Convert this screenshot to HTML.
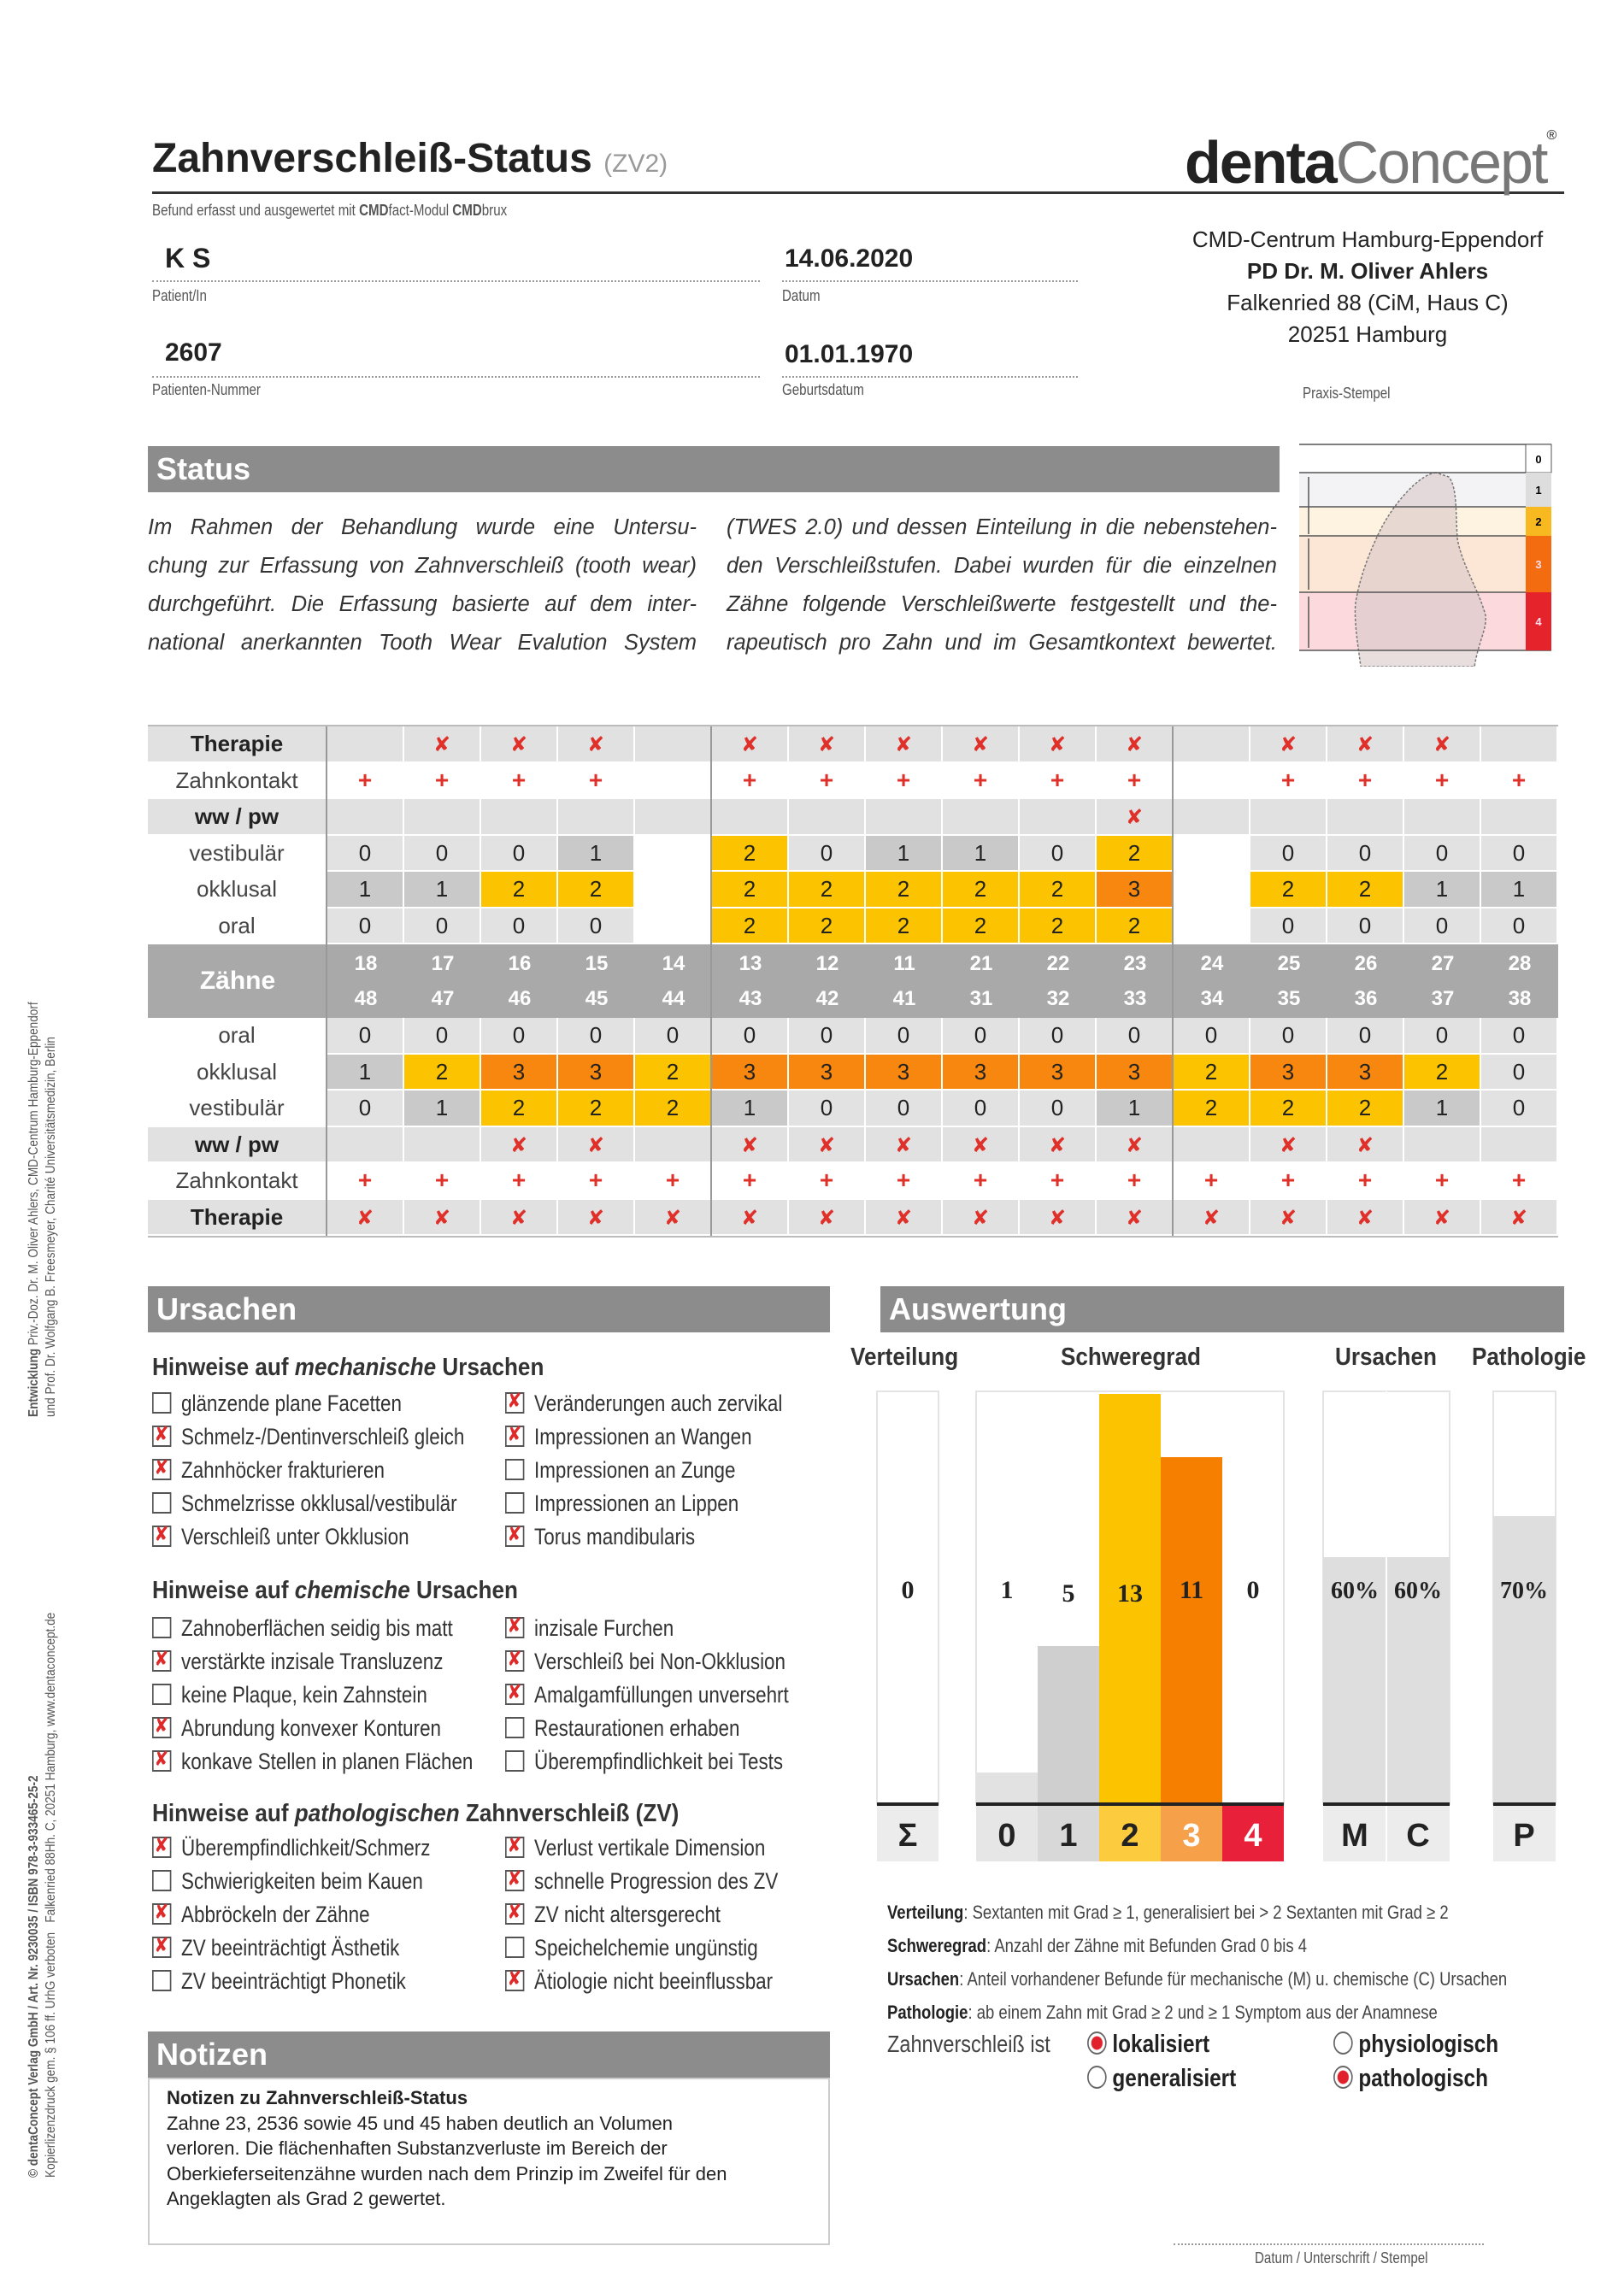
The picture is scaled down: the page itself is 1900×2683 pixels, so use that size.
<!DOCTYPE html>
<html><head><meta charset="utf-8">
<style>
*{margin:0;padding:0;box-sizing:border-box}
body{width:1900px;height:2683px;position:relative;background:#fff;font-family:"Liberation Sans",sans-serif;color:#222;overflow:hidden}
.a{position:absolute;white-space:nowrap}
.n{font-family:"Liberation Sans Narrow","Liberation Sans",sans-serif}
.sx{transform:scaleX(0.84);transform-origin:0 0}
.bar{position:absolute;background:#8c8c8c;color:#fff;font-weight:bold;font-size:36px;padding-left:10px;line-height:54px}
.dot{position:absolute;border-bottom:2px dotted #999;height:0}
.sm{font-size:18px;color:#555}
.p{position:absolute;font-style:italic;font-size:25.5px;color:#333;line-height:45px}
.p div{white-space:nowrap;text-align:justify;text-align-last:justify}
.cb{position:absolute;font-size:27px;color:#333;white-space:nowrap;transform:scaleX(0.83);transform-origin:0 0}
.cb i{display:inline-block;width:27px;height:25px;border:2px solid #555;vertical-align:-3px;margin-right:14px;position:relative;font-style:normal}
.cb i.x::after{content:"✘";position:absolute;left:1px;top:-6px;color:#e02a2a;font-size:24px;font-family:"DejaVu Sans",sans-serif}
.h{position:absolute;font-size:29px;font-weight:bold;color:#333;white-space:nowrap}
.cell{position:absolute;text-align:center;font-size:26px;color:#222}
.rx{color:#e0302a;font-family:"DejaVu Sans",sans-serif;font-size:24px;font-weight:bold}
.rp{color:#e0302a;font-size:28px;font-weight:bold}
</style></head><body>

<div class="a" style="left:178px;top:158px;font-size:48px;font-weight:bold;color:#222">Zahnverschleiß-Status <span style="font-size:30px;font-weight:normal;color:#999">(ZV2)</span></div>
<div class="a" style="left:178px;top:224px;width:1652px;height:3px;background:#333"></div>
<div class="a" style="left:1386px;top:150px;font-size:70px;color:#222;letter-spacing:-2px"><b>denta</b><span style="color:#777;font-weight:normal">Concept</span><span style="font-size:16px;vertical-align:top">®</span></div>
<div class="a sm sx" style="left:178px;top:236px">Befund erfasst und ausgewertet mit <b>CMD</b>fact-Modul <b>CMD</b>brux</div>

<div class="a" style="left:193px;top:284px;font-size:32px;font-weight:bold">K S</div>
<div class="dot" style="left:178px;top:328px;width:711px"></div>
<div class="a sm sx" style="left:178px;top:336px">Patient/In</div>
<div class="a" style="left:918px;top:286px;font-size:30px;font-weight:bold">14.06.2020</div>
<div class="dot" style="left:915px;top:328px;width:346px"></div>
<div class="a sm sx" style="left:915px;top:336px">Datum</div>
<div class="a" style="left:193px;top:396px;font-size:30px;font-weight:bold">2607</div>
<div class="dot" style="left:178px;top:440px;width:711px"></div>
<div class="a sm sx" style="left:178px;top:446px">Patienten-Nummer</div>
<div class="a" style="left:918px;top:398px;font-size:30px;font-weight:bold">01.01.1970</div>
<div class="dot" style="left:915px;top:440px;width:346px"></div>
<div class="a sm sx" style="left:915px;top:446px">Geburtsdatum</div>

<div class="a" style="left:1320px;top:262px;width:560px;text-align:center;font-size:26px;line-height:37px;color:#222">CMD-Centrum Hamburg-Eppendorf<br><b>PD Dr. M. Oliver Ahlers</b><br>Falkenried 88 (CiM, Haus C)<br>20251 Hamburg</div>
<div class="a sm sx" style="left:1524px;top:450px">Praxis-Stempel</div>

<div class="bar" style="left:173px;top:522px;width:1324px">Status</div>
<div class="p" style="left:173px;top:595px;width:642px"><div>Im Rahmen der Behandlung wurde eine Untersu-</div><div>chung zur Erfassung von Zahnverschleiß (tooth wear)</div><div>durchgeführt. Die Erfassung basierte auf dem inter-</div><div>national anerkannten Tooth Wear Evalution System</div></div>
<div class="p" style="left:850px;top:595px;width:644px"><div>(TWES 2.0) und dessen Einteilung in die nebenstehen-</div><div>den Verschleißstufen. Dabei wurden für die einzelnen</div><div>Zähne folgende Verschleißwerte festgestellt und the-</div><div>rapeutisch pro Zahn und im Gesamtkontext bewertet.</div></div>

<svg class="a" style="left:1520px;top:510px" width="330" height="270" viewBox="0 0 330 270">
<rect x="0" y="43" width="265" height="40" fill="#f3f3f6"/>
<rect x="0" y="83" width="265" height="34" fill="#fdf3e0"/>
<rect x="0" y="117" width="265" height="66" fill="#fce6d6"/>
<rect x="0" y="183" width="265" height="68" fill="#fbd9dc"/>
<path d="M160 43 C140 45 110 80 95 110 C80 140 70 170 66 195 C64 215 68 240 72 270 L205 270 C210 240 220 225 218 210 C210 180 190 150 185 120 C183 90 185 60 175 48 Z" fill="#d8c8c8" fill-opacity="0.6" stroke="#777" stroke-width="1.5" stroke-dasharray="3,2"/>
<g stroke="#555" stroke-width="1.5"><line x1="0" y1="10" x2="295" y2="10"/><line x1="0" y1="43" x2="295" y2="43"/><line x1="0" y1="83" x2="295" y2="83"/><line x1="0" y1="117" x2="295" y2="117"/><line x1="0" y1="183" x2="295" y2="183"/><line x1="0" y1="251" x2="295" y2="251"/>
<line x1="11" y1="48" x2="11" y2="115"/><line x1="11" y1="120" x2="11" y2="180"/><line x1="11" y1="188" x2="11" y2="248"/></g>
<rect x="265" y="10" width="30" height="33" fill="#fff" stroke="#555"/>
<rect x="265" y="43" width="30" height="40" fill="#ddd"/>
<rect x="265" y="83" width="30" height="34" fill="#f8b820"/>
<rect x="265" y="117" width="30" height="66" fill="#f36d10"/>
<rect x="265" y="183" width="30" height="68" fill="#e4242a"/>
<g font-size="13" font-weight="bold" text-anchor="middle" font-family="Liberation Sans"><text x="280" y="32">0</text><text x="280" y="68">1</text><text x="280" y="105">2</text><text x="280" y="155" fill="#fde">3</text><text x="280" y="222" fill="#fde">4</text></g>
</svg>

<div id="tbl"></div>

<div class="bar" style="left:173px;top:1505px;width:798px">Ursachen</div>
<div class="bar" style="left:1030px;top:1505px;width:800px">Auswertung</div>

<div class="h sx" style="left:178px;top:1584px;transform:scaleX(0.9)">Hinweise auf <i>mechanische</i> Ursachen</div>
<div class="cb" style="left:178px;top:1627px"><i></i>glänzende plane Facetten</div>
<div class="cb" style="left:178px;top:1666px"><i class="x"></i>Schmelz-/Dentinverschleiß gleich</div>
<div class="cb" style="left:178px;top:1705px"><i class="x"></i>Zahnhöcker frakturieren</div>
<div class="cb" style="left:178px;top:1744px"><i></i>Schmelzrisse okklusal/vestibulär</div>
<div class="cb" style="left:178px;top:1783px"><i class="x"></i>Verschleiß unter Okklusion</div>
<div class="cb" style="left:591px;top:1627px"><i class="x"></i>Veränderungen auch zervikal</div>
<div class="cb" style="left:591px;top:1666px"><i class="x"></i>Impressionen an Wangen</div>
<div class="cb" style="left:591px;top:1705px"><i></i>Impressionen an Zunge</div>
<div class="cb" style="left:591px;top:1744px"><i></i>Impressionen an Lippen</div>
<div class="cb" style="left:591px;top:1783px"><i class="x"></i>Torus mandibularis</div>

<div class="h sx" style="left:178px;top:1845px;transform:scaleX(0.9)">Hinweise auf <i>chemische</i> Ursachen</div>
<div class="cb" style="left:178px;top:1890px"><i></i>Zahnoberflächen seidig bis matt</div>
<div class="cb" style="left:178px;top:1929px"><i class="x"></i>verstärkte inzisale Transluzenz</div>
<div class="cb" style="left:178px;top:1968px"><i></i>keine Plaque, kein Zahnstein</div>
<div class="cb" style="left:178px;top:2007px"><i class="x"></i>Abrundung konvexer Konturen</div>
<div class="cb" style="left:178px;top:2046px"><i class="x"></i>konkave Stellen in planen Flächen</div>
<div class="cb" style="left:591px;top:1890px"><i class="x"></i>inzisale Furchen</div>
<div class="cb" style="left:591px;top:1929px"><i class="x"></i>Verschleiß bei Non-Okklusion</div>
<div class="cb" style="left:591px;top:1968px"><i class="x"></i>Amalgamfüllungen unversehrt</div>
<div class="cb" style="left:591px;top:2007px"><i></i>Restaurationen erhaben</div>
<div class="cb" style="left:591px;top:2046px"><i></i>Überempfindlichkeit bei Tests</div>

<div class="h sx" style="left:178px;top:2106px;transform:scaleX(0.9)">Hinweise auf <i>pathologischen</i> Zahnverschleiß (ZV)</div>
<div class="cb" style="left:178px;top:2147px"><i class="x"></i>Überempfindlichkeit/Schmerz</div>
<div class="cb" style="left:178px;top:2186px"><i></i>Schwierigkeiten beim Kauen</div>
<div class="cb" style="left:178px;top:2225px"><i class="x"></i>Abbröckeln der Zähne</div>
<div class="cb" style="left:178px;top:2264px"><i class="x"></i>ZV beeinträchtigt Ästhetik</div>
<div class="cb" style="left:178px;top:2303px"><i></i>ZV beeinträchtigt Phonetik</div>
<div class="cb" style="left:591px;top:2147px"><i class="x"></i>Verlust vertikale Dimension</div>
<div class="cb" style="left:591px;top:2186px"><i class="x"></i>schnelle Progression des ZV</div>
<div class="cb" style="left:591px;top:2225px"><i class="x"></i>ZV nicht altersgerecht</div>
<div class="cb" style="left:591px;top:2264px"><i></i>Speichelchemie ungünstig</div>
<div class="cb" style="left:591px;top:2303px"><i class="x"></i>Ätiologie nicht beeinflussbar</div>

<div class="bar" style="left:173px;top:2377px;width:798px">Notizen</div>
<div class="a" style="left:173px;top:2431px;width:798px;height:196px;border:2px solid #ccc"></div>
<div class="a" style="left:195px;top:2440px;font-size:22px;line-height:29.5px;color:#222;white-space:normal;width:760px"><b>Notizen zu Zahnverschleiß-Status</b><br>Zahne 23, 2536 sowie 45 und 45 haben deutlich an Volumen<br>verloren. Die flächenhaften Substanzverluste im Bereich der<br>Oberkieferseitenzähne wurden nach dem Prinzip im Zweifel für den<br>Angeklagten als Grad 2 gewertet.</div>

<div class="h" style="left:995px;top:1572px;transform:scaleX(0.9);transform-origin:0 0">Verteilung</div>
<div class="h" style="left:1241px;top:1572px;transform:scaleX(0.9);transform-origin:0 0">Schweregrad</div>
<div class="h" style="left:1562px;top:1572px;transform:scaleX(0.9);transform-origin:0 0">Ursachen</div>
<div class="h" style="left:1722px;top:1572px;transform:scaleX(0.9);transform-origin:0 0">Pathologie</div>
<svg class="a" style="left:1000px;top:1620px" width="860" height="570">
<g fill="#fff" stroke="#e4e4e4" stroke-width="2"><rect x="26" y="8" width="72" height="483"/><rect x="142" y="8" width="360" height="483"/><rect x="548" y="8" width="148" height="483"/><rect x="747" y="8" width="73" height="483"/></g>
<rect x="142" y="454" width="72" height="37" fill="#e2e2e2"/>
<rect x="214" y="306" width="72" height="185" fill="#cfcfcf"/>
<rect x="286" y="11" width="72" height="480" fill="#fcc400"/>
<rect x="358" y="85" width="72" height="406" fill="#f77f00"/>
<rect x="548" y="202" width="148" height="289" fill="#dedede"/>
<line x1="622" y1="8" x2="622" y2="558" stroke="#fff" stroke-width="2"/>
<rect x="747" y="154" width="73" height="337" fill="#dedede"/>
<g stroke="#222" stroke-width="4"><line x1="26" y1="491" x2="98" y2="491"/><line x1="142" y1="491" x2="502" y2="491"/><line x1="548" y1="491" x2="696" y2="491"/><line x1="747" y1="491" x2="820" y2="491"/></g>
<rect x="26" y="493" width="72" height="65" fill="#ececec"/>
<rect x="142" y="493" width="72" height="65" fill="#e6e6e6"/>
<rect x="214" y="493" width="72" height="65" fill="#d8d8d8"/>
<rect x="286" y="493" width="72" height="65" fill="#fccb3e"/>
<rect x="358" y="493" width="72" height="65" fill="#f6a04a"/>
<rect x="430" y="493" width="72" height="65" fill="#e8203a"/>
<rect x="548" y="493" width="73" height="65" fill="#ececec"/><rect x="623" y="493" width="73" height="65" fill="#ececec"/>
<rect x="747" y="493" width="73" height="65" fill="#ececec"/>
<g font-family="Liberation Serif" font-size="30" font-weight="bold" text-anchor="middle" fill="#222"><text x="62" y="250">0</text><text x="178" y="250">1</text><text x="250" y="254">5</text><text x="322" y="254">13</text><text x="394" y="250">11</text><text x="466" y="250">0</text><text x="585" y="250" font-size="28">60%</text><text x="659" y="250" font-size="28">60%</text><text x="783" y="250" font-size="28">70%</text></g>
<g font-family="Liberation Sans" font-size="38" font-weight="bold" text-anchor="middle" fill="#222"><text x="62" y="540">Σ</text><text x="178" y="540">0</text><text x="250" y="540">1</text><text x="322" y="540">2</text><text x="394" y="540" fill="#fff">3</text><text x="466" y="540" fill="#fff">4</text><text x="585" y="540">M</text><text x="659" y="540">C</text><text x="783" y="540">P</text></g>
</svg>

<div class="a sx" style="left:1038px;top:2218px;font-size:22px;line-height:39px;color:#444;transform:scaleX(0.84)">
<div><b style="color:#222">Verteilung</b>: Sextanten mit Grad ≥ 1, generalisiert bei &gt; 2 Sextanten mit Grad ≥ 2</div>
<div><b style="color:#222">Schweregrad</b>: Anzahl der Zähne mit Befunden Grad 0 bis 4</div>
<div><b style="color:#222">Ursachen</b>: Anteil vorhandener Befunde für mechanische (M) u. chemische (C) Ursachen</div>
<div><b style="color:#222">Pathologie</b>: ab einem Zahn mit Grad ≥ 2 und ≥ 1 Symptom aus der Anamnese</div></div>
<div class="a sx" style="left:1038px;top:2376px;font-size:28px;color:#444">Zahnverschleiß ist</div>
<div class="a sx" style="left:1272px;top:2376px;font-size:29px;font-weight:bold;color:#222"><span style="display:inline-block;width:27px;height:27px;border:2px solid #666;border-radius:50%;vertical-align:-3px;margin-right:8px;background:radial-gradient(#e0202a 45%,#fff 52%)"></span>lokalisiert</div>
<div class="a sx" style="left:1272px;top:2416px;font-size:29px;font-weight:bold;color:#222"><span style="display:inline-block;width:27px;height:27px;border:2px solid #666;border-radius:50%;vertical-align:-3px;margin-right:8px"></span>generalisiert</div>
<div class="a sx" style="left:1560px;top:2376px;font-size:29px;font-weight:bold;color:#222"><span style="display:inline-block;width:27px;height:27px;border:2px solid #666;border-radius:50%;vertical-align:-3px;margin-right:8px"></span>physiologisch</div>
<div class="a sx" style="left:1560px;top:2416px;font-size:29px;font-weight:bold;color:#222"><span style="display:inline-block;width:27px;height:27px;border:2px solid #666;border-radius:50%;vertical-align:-3px;margin-right:8px;background:radial-gradient(#e0202a 45%,#fff 52%)"></span>pathologisch</div>

<div class="dot" style="left:1373px;top:2625px;width:363px"></div>
<div class="a sm sx" style="left:1468px;top:2632px">Datum / Unterschrift / Stempel</div>

<div class="a" style="left:30px;top:1658px;transform:rotate(-90deg) scaleX(0.85);transform-origin:0 0;font-size:16px;line-height:20px;color:#555"><b>Entwicklung</b> Priv.-Doz. Dr. M. Oliver Ahlers, CMD-Centrum Hamburg-Eppendorf<br>und Prof. Dr. Wolfgang B. Freesmeyer, Charité Universitätsmedizin, Berlin</div>
<div class="a" style="left:30px;top:2548px;transform:rotate(-90deg) scaleX(0.85);transform-origin:0 0;font-size:16px;line-height:20px;color:#555"><b>© dentaConcept Verlag GmbH / Art. Nr. 9230035 / ISBN 978-3-933465-25-2</b><br>Kopierlizenzdruck gem. § 106 ff. UrhG verboten &nbsp; Falkenried 88Hh. C, 20251 Hamburg, www.dentaconcept.de</div>

<script>
(function(){
var t=document.getElementById('tbl'),h='';
var L=173,LW=210,CW=90,RH=42.5;
function box(x,y,w,hh,bg,txt,cls,col){h+='<div class="cell '+(cls||'')+'" style="left:'+x+'px;top:'+y+'px;width:'+w+'px;height:'+hh+'px;line-height:'+hh+'px;background:'+bg+';'+(col?'color:'+col:'')+'">'+txt+'</div>';}
var clr={'0':'#e2e2e2','1':'#c9c9c9','2':'#fcc400','3':'#f7870f','_':'#fff'};
var X='<span class="rx">✘</span>',P='<span class="rp">+</span>';
function row(y,label,lb,arr,bold,type){
 box(L,y,LW-2,RH-2,lb,bold?'<b>'+label+'</b>':label,'',bold?'#222':'#444');
 for(var i=0;i<16;i++){var v=arr[i],bg,tx='';
  if(type=='v'){bg=clr[v];tx=v=='_'?'':v;}
  else{bg=type=='g'?'#e1e1e1':'#fff';tx=v=='x'?X:(v=='+'?P:'');}
  box(L+LW+i*CW,y,CW-2,RH-2,bg,tx);}
}
var y=850;
row(y,'Therapie','#e1e1e1','.xxx.xxxxxx.xxx.'.split(''),1,'g');y+=RH;
row(y,'Zahnkontakt','#fff','++++.++++++.++++'.split(''),0,'w');y+=RH;
row(y,'ww / pw','#e1e1e1','..........x.....'.split(''),1,'g');y+=RH;
row(y,'vestibulär','#fff','0001_201102_0000'.split(''),0,'v');y+=RH;
row(y,'okklusal','#fff','1122_222223_2211'.split(''),0,'v');y+=RH;
row(y,'oral','#fff','0000_222222_0000'.split(''),0,'v');y+=RH;
h+='<div class="a" style="left:'+L+'px;top:'+y+'px;width:1650px;height:86px;background:#a9a9a9"></div>';
h+='<div class="a" style="left:'+L+'px;top:'+y+'px;width:'+LW+'px;line-height:86px;text-align:center;color:#fff;font-weight:bold;font-size:30px">Zähne</div>';
var up=[18,17,16,15,14,13,12,11,21,22,23,24,25,26,27,28],lo=[48,47,46,45,44,43,42,41,31,32,33,34,35,36,37,38];
for(var i=0;i<16;i++){h+='<div class="a" style="left:'+(L+LW+i*CW)+'px;top:'+(y+2)+'px;width:'+CW+'px;text-align:center;color:#fff;font-size:24px;line-height:41px;font-weight:bold">'+up[i]+'<br>'+lo[i]+'</div>';}
y+=86;
row(y,'oral','#fff','0000000000000000'.split(''),0,'v');y+=RH;
row(y,'okklusal','#fff','1233233333323320'.split(''),0,'v');y+=RH;
row(y,'vestibulär','#fff','0122210000122210'.split(''),0,'v');y+=RH;
row(y,'ww / pw','#e1e1e1','..xx.xxxxxx.xx..'.split(''),1,'g');y+=RH;
row(y,'Zahnkontakt','#fff','++++++++++++++++'.split(''),0,'w');y+=RH;
row(y,'Therapie','#e1e1e1','xxxxxxxxxxxxxxxx'.split(''),1,'g');y+=RH;
h+='<div class="a" style="left:'+(L+LW-2)+'px;top:850px;width:2px;height:'+(y-850)+'px;background:#999"></div>';
h+='<div class="a" style="left:'+(L+LW+5*CW-2)+'px;top:850px;width:2px;height:'+(y-850)+'px;background:#999"></div>';
h+='<div class="a" style="left:'+(L+LW+11*CW-2)+'px;top:850px;width:2px;height:'+(y-850)+'px;background:#999"></div>';
h+='<div class="a" style="left:'+L+'px;top:848px;width:1650px;height:2px;background:#bbb"></div>';
h+='<div class="a" style="left:'+L+'px;top:'+y+'px;width:1650px;height:2px;background:#bbb"></div>';
t.innerHTML=h;
})();
</script>
</body></html>
